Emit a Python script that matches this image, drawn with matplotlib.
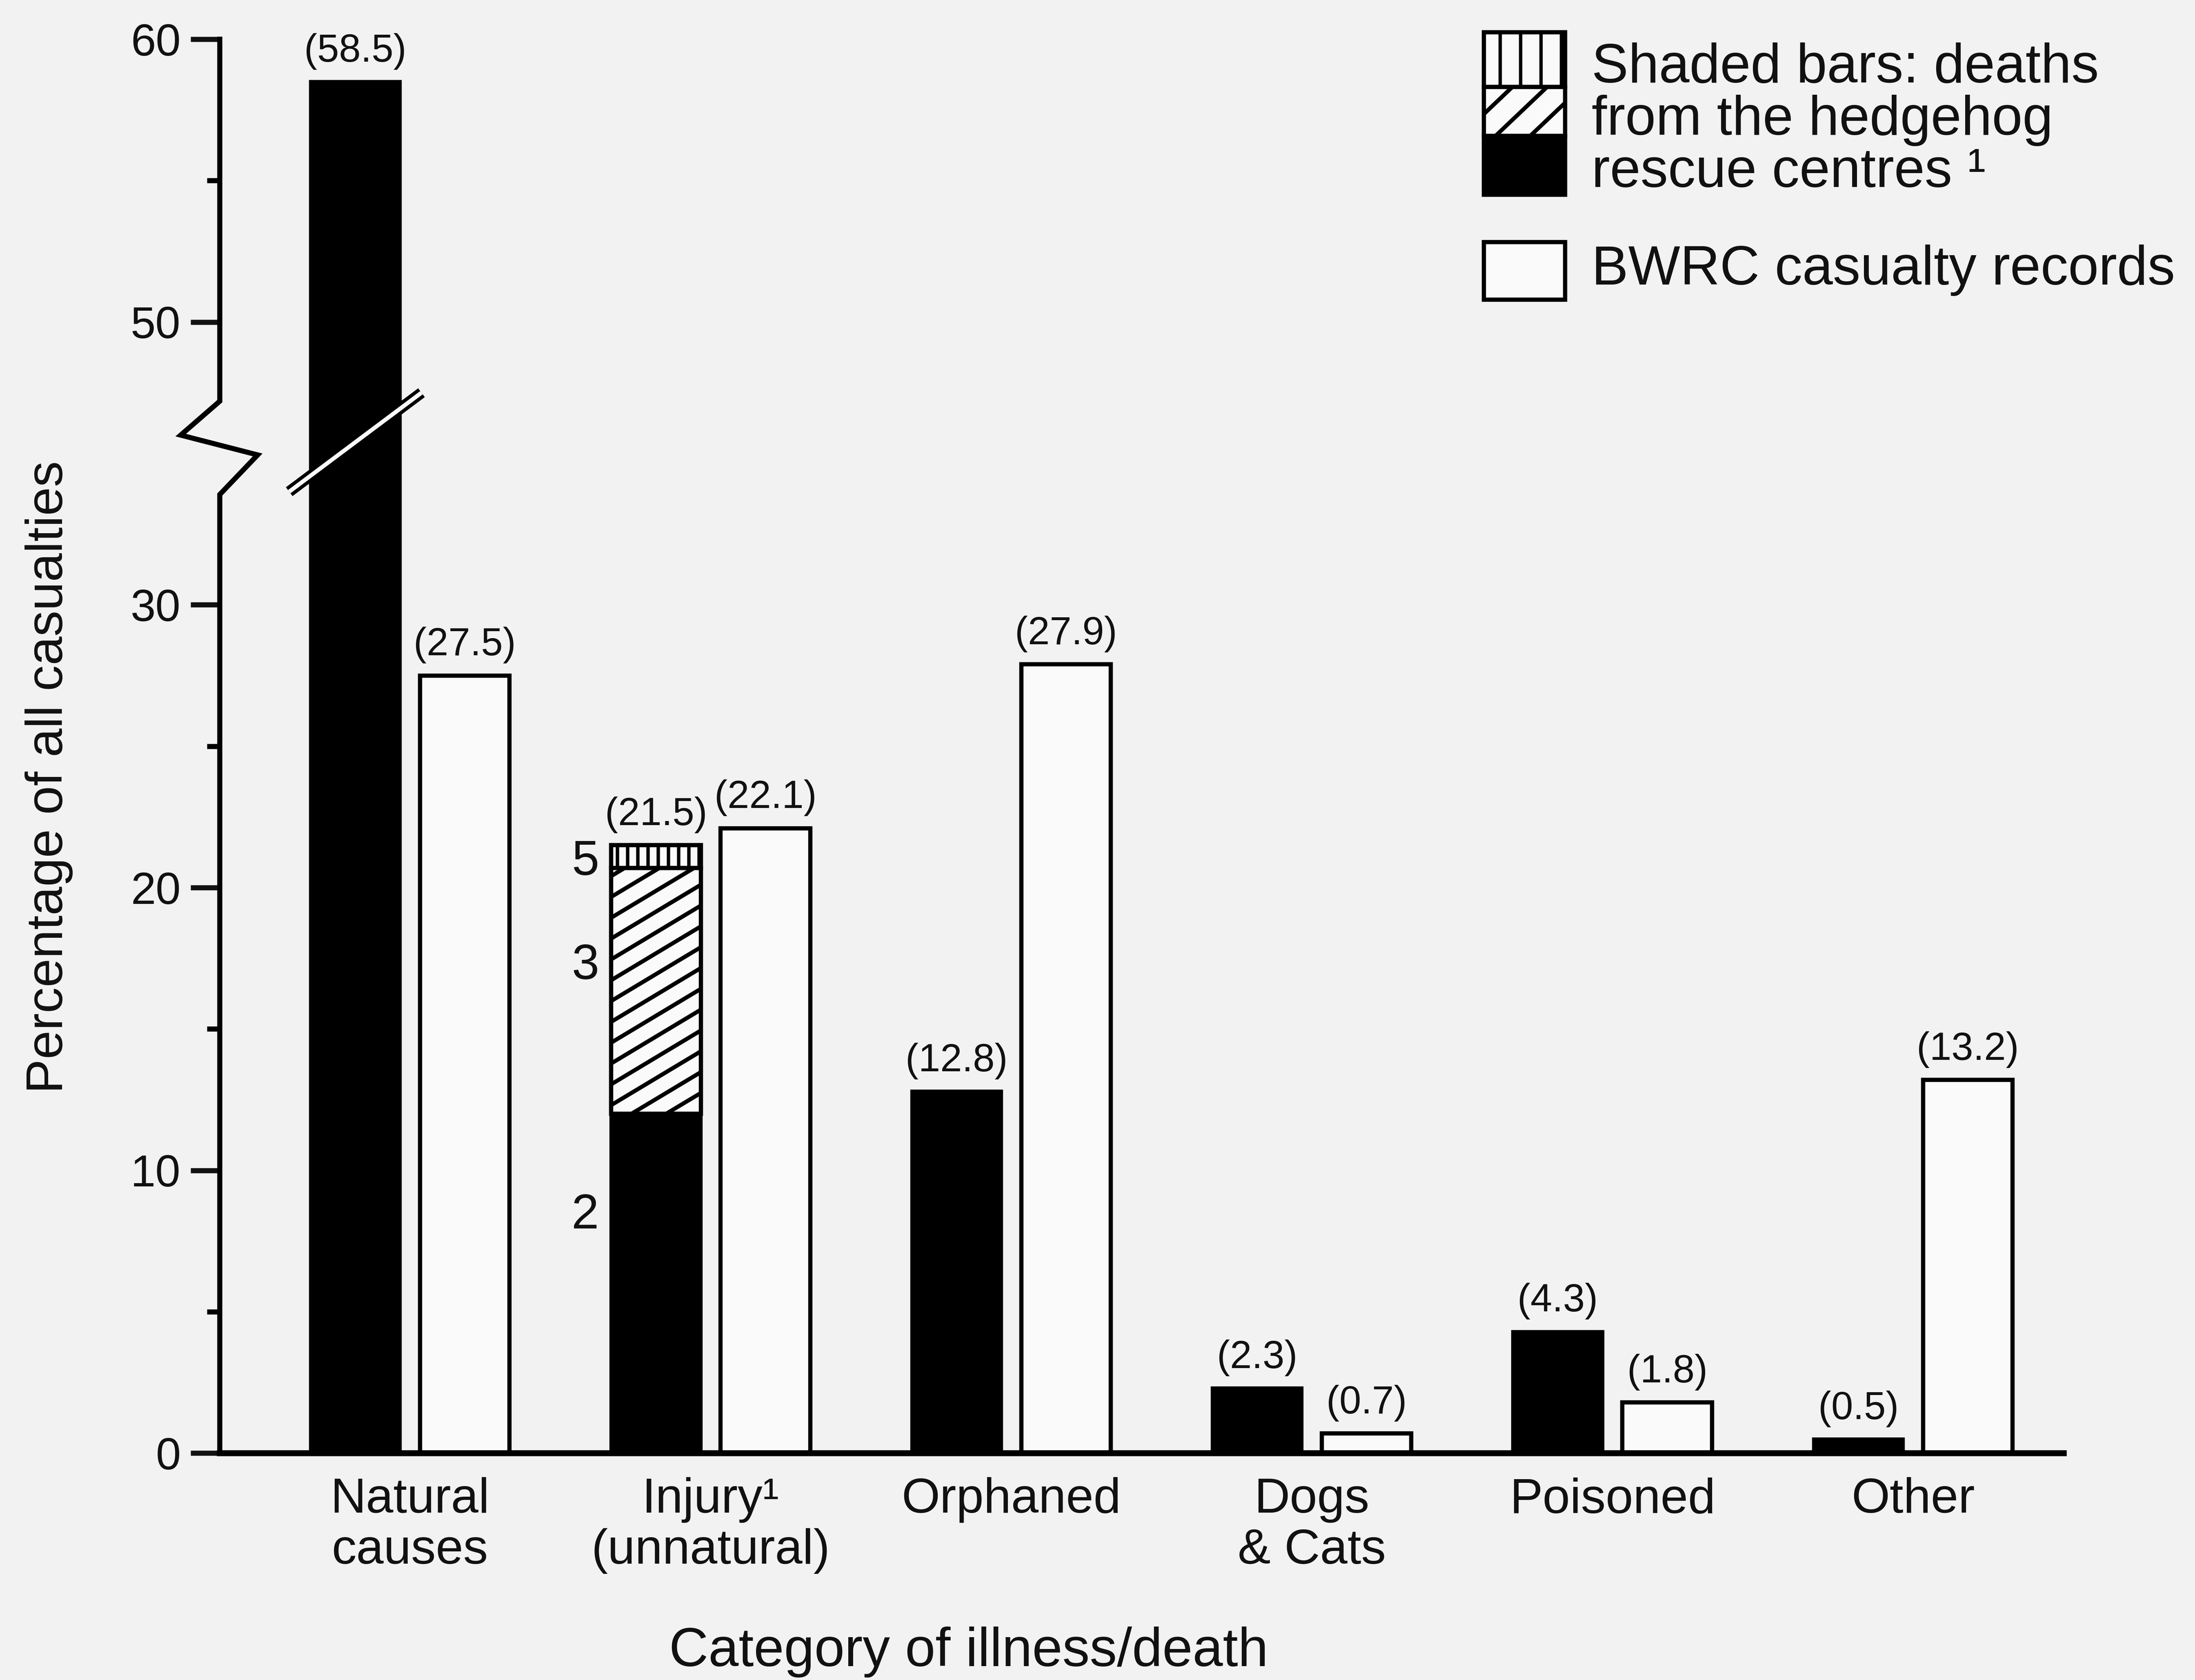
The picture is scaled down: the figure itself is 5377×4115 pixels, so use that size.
import matplotlib
matplotlib.use("Agg")
import numpy as np
import matplotlib.pyplot as plt
from matplotlib.patches import Rectangle
from matplotlib.lines import Line2D

plt.rcParams['font.family'] = ['Liberation Sans', 'DejaVu Sans']
plt.rcParams['hatch.linewidth'] = 2.0

# ---------------- data ----------------
categories = ["Natural\ncauses", "Injury\u00b9\n(unnatural)", "Orphaned",
              "Dogs\n& Cats", "Poisoned", "Other"]
rescue_deaths = [58.5, 21.5, 12.8, 2.3, 4.3, 0.5]      # black (shaded) bars
bwrc_records = [27.5, 22.1, 27.9, 0.7, 1.8, 13.2]      # open bars
injury_index = 1
injury_segments = [12.0, 8.7, 0.8]                     # sub-categories of injury
injury_segment_labels = ["2", "3", "5"]
y_tick_values = [0, 10, 20, 30, 50, 60]
y_minor_values = [5, 15, 25, 55]

# ------------- axis break ---------------
BREAK_AT = 35.0
BREAK_GAP = 10.0


def to_axis(v):
    return v if v <= BREAK_AT else v - BREAK_GAP


BG = '#f2f2f2'
INK = '#111111'
W, H = 5377, 4115
fig = plt.figure(figsize=(W / 300, H / 300), dpi=300, facecolor=BG)


def fx(px):  # layout helper: 1568-wide preview x -> figure fraction
    return px / 1568.0


def fy(py):
    return 1 - py / 1200.0


ax_rect = [fx(157), fy(1038), fx(1474) - fx(157), fy(28) - fy(1038)]
ax = fig.add_axes(ax_rect)
ax.set_facecolor('none')
x_left, x_right = -0.633, 5.50
y_top = 50
ax.set_xlim(x_left, x_right)
ax.set_ylim(0, y_top)
px_per_x = ax_rect[2] * W / (x_right - x_left)
px_per_y = ax_rect[3] * H / y_top

bar_w = 0.298
off = 0.182
xs = list(range(len(categories)))


def diagonal_lines(target_add, x0, x1, y0, y1, slope, spacing, transform,
                   clip_patch, lw):
    starts = np.arange(y0 - slope * (x1 - x0), y1 + spacing, spacing)
    for c in starts:
        ln = Line2D([x0, x1], [c, c + slope * (x1 - x0)], color='black',
                    lw=lw, transform=transform, zorder=3,
                    solid_capstyle='butt')
        target_add(ln)
        ln.set_clip_path(clip_patch)


# black bars (injury split into stacked segments)
black_heights = [to_axis(v) for v in rescue_deaths]
black_heights[injury_index] = injury_segments[0]
ax.bar([x - off for x in xs], black_heights, width=bar_w, color='black',
       edgecolor='black', linewidth=2.0, zorder=2)

# category 3 : diagonal shading (shallow slanted lines)
seg_bottom = injury_segments[0]
mid = ax.bar(injury_index - off, injury_segments[1], bottom=seg_bottom,
             width=bar_w, color='#fafafa', edgecolor='black', linewidth=2.5,
             zorder=2)[0]
xl = injury_index - off - bar_w / 2
diagonal_lines(ax.add_line, xl, xl + bar_w, seg_bottom,
               seg_bottom + injury_segments[1],
               slope=0.6 * px_per_x / px_per_y, spacing=51 / px_per_y,
               transform=ax.transData, clip_patch=mid, lw=2.4)
# category 5 : vertical stripes
ax.bar(injury_index - off, injury_segments[2],
       bottom=seg_bottom + injury_segments[1], width=bar_w, color='#fafafa',
       edgecolor='black', hatch='||', linewidth=2.5, zorder=2)

# segment labels
label_pos = [0.7, 0.6, 0.25]
bottom = 0.0
for seg, lab, fr in zip(injury_segments, injury_segment_labels, label_pos):
    ax.text(injury_index - off - bar_w / 2 - 0.04, bottom + fr * seg, lab,
            ha='right', va='center', fontsize=29, color=INK)
    bottom += seg

# open bars
ax.bar([x + off for x in xs], [to_axis(v) for v in bwrc_records], width=bar_w,
       color='#fafafa', edgecolor='black', linewidth=2.5, zorder=2)

# value labels
for x, v in zip(xs, rescue_deaths):
    ax.annotate(f"({v})", (x - off, to_axis(v)), xytext=(0, 7),
                textcoords='offset points', ha='center', va='bottom',
                fontsize=23, color=INK, annotation_clip=False)
for x, v in zip(xs, bwrc_records):
    ax.annotate(f"({v})", (x + off, to_axis(v)), xytext=(0, 7),
                textcoords='offset points', ha='center', va='bottom',
                fontsize=23, color=INK, annotation_clip=False)

# break mark on the tall bar
bx = 0 - off
ax.plot([bx - 0.22, bx + 0.22], [34.0, 37.5], color='black', lw=6.5,
        solid_capstyle='butt', zorder=3, clip_on=False)
ax.plot([bx - 0.22, bx + 0.22], [34.0, 37.5], color='#fafafa', lw=2.4,
        solid_capstyle='butt', zorder=4, clip_on=False)

# left axis with zig-zag break
ax.plot([x_left, x_left, x_left - 0.13, x_left + 0.126, x_left, x_left],
        [y_top, 37.2, 36.0, 35.3, 33.9, 0], color='black', lw=3,
        solid_joinstyle='miter', clip_on=False, zorder=5)

for s in ['left', 'top', 'right']:
    ax.spines[s].set_visible(False)
ax.spines['bottom'].set_linewidth(3.5)

ax.set_yticks([to_axis(v) for v in y_tick_values], [str(v) for v in y_tick_values])
ax.set_yticks([to_axis(v) for v in y_minor_values], minor=True)
ax.tick_params(axis='y', which='major', direction='out', length=17, width=3,
               labelsize=26.5, pad=6, colors=INK)
ax.tick_params(axis='y', which='minor', direction='out', length=7.5, width=3)
ax.set_xticks(xs, categories)
ax.tick_params(axis='x', length=0, pad=14, labelsize=29, colors=INK)
for t in ax.get_xticklabels():
    t.set_linespacing(1.15)

fig.text(fx(692), fy(1180), "Category of illness/death", ha='center',
         va='center', fontsize=32, color=INK)
fig.text(fx(35), fy(555), "Percentage of all casualties", ha='center',
         va='center', rotation=90, fontsize=30.4, color=INK)

# legend
lx0, lx1 = fx(1060), fx(1118)
r = Rectangle((lx0, fy(62)), lx1 - lx0, fy(23) - fy(62), transform=fig.transFigure,
              facecolor='#fafafa', edgecolor='black', hatch='|', linewidth=2.5)
fig.add_artist(r)
r = Rectangle((lx0, fy(97)), lx1 - lx0, fy(62) - fy(97), transform=fig.transFigure,
              facecolor='#fafafa', edgecolor='black', linewidth=2.5)
fig.add_artist(r)
diagonal_lines(fig.add_artist, lx0, lx1, fy(97), fy(62),
               slope=0.95 * W / H, spacing=0.95 * 85 / H,
               transform=fig.transFigure, clip_patch=r, lw=2.4)
fig.add_artist(Rectangle((lx0, fy(139)), lx1 - lx0, fy(97) - fy(139),
                         transform=fig.transFigure, facecolor='black',
                         edgecolor='black', linewidth=2.5))
fig.add_artist(Rectangle((lx0, fy(214)), lx1 - lx0, fy(173) - fy(214),
                         transform=fig.transFigure, facecolor='#fafafa',
                         edgecolor='black', linewidth=2.5))
fig.text(fx(1137), fy(86), "Shaded bars: deaths\nfrom the hedgehog\nrescue centres \u00b9",
         ha='left', va='center', fontsize=32.3, color=INK, linespacing=1.02)
fig.text(fx(1137), fy(193), "BWRC casualty records", ha='left', va='center',
         fontsize=32.3, color=INK)

fig.savefig("out.png", dpi=300, facecolor=BG)
